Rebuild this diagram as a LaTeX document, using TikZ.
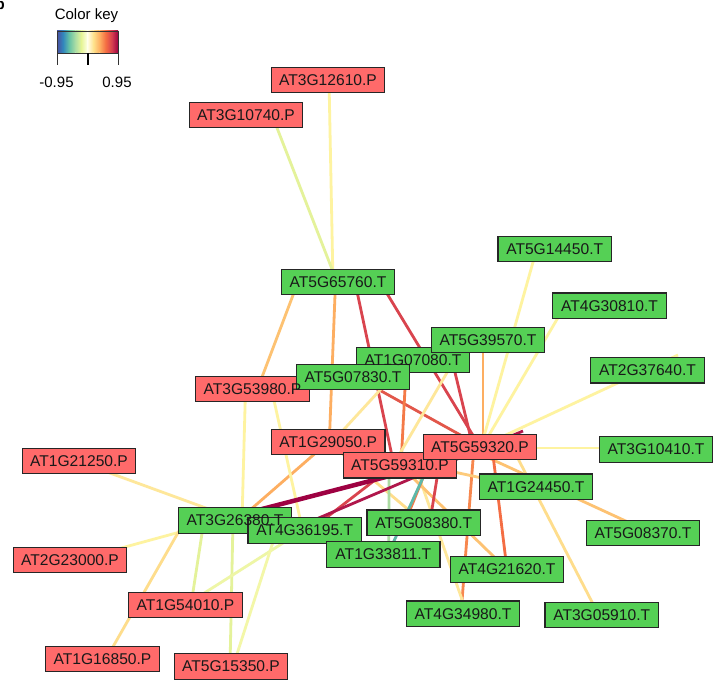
\documentclass[tikz,border=0pt]{standalone}
\usepackage{fontspec}
\setmainfont{Liberation Sans}
\usetikzlibrary{backgrounds}
\definecolor{pcol}{HTML}{FF6A6A}
\definecolor{tcol}{HTML}{55D055}
\definecolor{cPY}{HTML}{FEF3A0}
\definecolor{cLY}{HTML}{FEE79A}
\definecolor{cYG}{HTML}{E4F29A}
\definecolor{cYGb}{HTML}{EEF6A6}
\definecolor{cYGc}{HTML}{F3F7A8}
\definecolor{cPO}{HTML}{FEDD8C}
\definecolor{cLO}{HTML}{FDC272}
\definecolor{cLOb}{HTML}{FDCB7C}
\definecolor{cO}{HTML}{FDAE61}
\definecolor{cOR}{HTML}{F47A48}
\definecolor{cORb}{HTML}{F46D43}
\definecolor{cORc}{HTML}{F7874E}
\definecolor{cR}{HTML}{D9444E}
\definecolor{cRb}{HTML}{E2574A}
\definecolor{cC}{HTML}{B0174B}
\definecolor{cDC}{HTML}{9E0142}
\definecolor{cTeal}{HTML}{5DB8A8}
\definecolor{cLG}{HTML}{ABDBA2}
\definecolor{k1}{HTML}{4A4EA0}
\definecolor{k2}{HTML}{3288BD}
\definecolor{k3}{HTML}{66C2A5}
\definecolor{k4}{HTML}{ABDDA4}
\definecolor{k5}{HTML}{E6F598}
\definecolor{k6}{HTML}{FFFFE6}
\definecolor{k7}{HTML}{FEE08B}
\definecolor{k8}{HTML}{FDAE61}
\definecolor{k9}{HTML}{F46D43}
\definecolor{k10}{HTML}{D53E4F}
\definecolor{k11}{HTML}{9E0142}
\begin{document}
\begin{tikzpicture}[x=1pt,y=-1pt,
  box/.style={draw=black!85, line width=1.2pt, minimum width=113.5pt, minimum height=25.5pt, inner sep=0pt},
  pbox/.style={box, fill=pcol},
  tbox/.style={box, fill=tcol},
  lab/.style={font=\fontsize{15.6}{18}\selectfont, inner sep=0pt, text=black!90},
  edge/.style={line width=2.8pt},
  keytxt/.style={font=\fontsize{15}{18}\selectfont, inner sep=0pt},
]
\useasboundingbox (0,0) rectangle (723,684);
% fragment of panel letter
\node[anchor=east, font=\fontsize{15}{18}\selectfont\bfseries, inner sep=0pt] (panel) at (5,4) {b};
% color key
\node[keytxt] (keytitle) at (86.5,16) {Color key};
\coordinate (kA) at (57,31);
\coordinate (kB) at (118,53);
\shade[left color=k1, right color=k2] (57,31) rectangle (63.1,53);
\shade[left color=k2, right color=k3] (63.1,31) rectangle (69.2,53);
\shade[left color=k3, right color=k4] (69.2,31) rectangle (75.3,53);
\shade[left color=k4, right color=k5] (75.3,31) rectangle (81.4,53);
\shade[left color=k5, right color=k6] (81.4,31) rectangle (87.5,53);
\shade[left color=k6, right color=k7] (87.5,31) rectangle (93.6,53);
\shade[left color=k7, right color=k8] (93.6,31) rectangle (99.7,53);
\shade[left color=k8, right color=k9] (99.7,31) rectangle (105.8,53);
\shade[left color=k9, right color=k10] (105.8,31) rectangle (111.9,53);
\shade[left color=k10, right color=k11] (111.9,31) rectangle (118,53);
\draw[black!80, line width=0.8pt] (kA) rectangle (kB);
\draw[black!80, line width=0.8pt] (57,53) -- (57,65);
\draw[black!80, line width=0.8pt] (118,53) -- (118,65);
\draw[black, line width=1.8pt] (88,53) -- (88,65);
\node[keytxt] (kmin) at (56.5,82) {-0.95};
\node[keytxt] (kmax) at (117,82) {0.95};
% boxes
\node[pbox] (n3G12610) at (328,80) {};
\node[pbox] (n3G10740) at (246,115) {};
\node[tbox] (n5G65760) at (338,282) {};
\node[tbox] (n5G14450) at (554.7,249) {};
\node[tbox] (n4G30810) at (609.5,305.7) {};
\node[tbox] (n2G37640) at (647.5,370.3) {};
\node[tbox] (n1G07080) at (413,360) {};
\node[tbox] (n5G39570) at (488,340) {};
\node[pbox] (n3G53980) at (252.5,389) {};
\node[tbox] (n5G07830) at (353,377) {};
\node[pbox] (n1G29050) at (328.3,442) {};
\node[pbox] (n5G59310) at (400,465.3) {};
\node[pbox] (n5G59320) at (480,447) {};
\node[tbox] (n3G10410) at (656,449.5) {};
\node[pbox] (n1G21250) at (79,461) {};
\node[tbox] (n1G24450) at (536,486.7) {};
\node[tbox] (n3G26380) at (235,520.5) {};
\node[tbox] (n4G36195) at (304.7,530.5) {};
\node[tbox] (n5G08380) at (423.8,522.8) {};
\node[tbox] (n5G08370) at (643,533) {};
\node[tbox] (n1G33811) at (383.3,554.5) {};
\node[pbox] (n2G23000) at (70,560) {};
\node[tbox] (n4G21620) at (507,569.5) {};
\node[pbox] (n1G54010) at (185.5,605) {};
\node[tbox] (n4G34980) at (463,613.7) {};
\node[tbox] (n3G05910) at (601.7,615) {};
\node[pbox] (n1G16850) at (102.5,659) {};
\node[pbox] (n5G15350) at (231,666.5) {};
% labels
\node[lab] (t3G12610) at (n3G12610.center) {AT3G12610.P};
\node[lab] (t3G10740) at (n3G10740.center) {AT3G10740.P};
\node[lab] (t5G65760) at (n5G65760.center) {AT5G65760.T};
\node[lab] (t5G14450) at (n5G14450.center) {AT5G14450.T};
\node[lab] (t4G30810) at (n4G30810.center) {AT4G30810.T};
\node[lab] (t2G37640) at (n2G37640.center) {AT2G37640.T};
\node[lab] (t1G07080) at (n1G07080.center) {AT1G07080.T};
\node[lab] (t5G39570) at (n5G39570.center) {AT5G39570.T};
\node[lab] (t3G53980) at (n3G53980.center) {AT3G53980.P};
\node[lab] (t5G07830) at (n5G07830.center) {AT5G07830.T};
\node[lab] (t1G29050) at (n1G29050.center) {AT1G29050.P};
\node[lab] (t5G59310) at (n5G59310.center) {AT5G59310.P};
\node[lab] (t5G59320) at (n5G59320.center) {AT5G59320.P};
\node[lab] (t3G10410) at (n3G10410.center) {AT3G10410.T};
\node[lab] (t1G21250) at (n1G21250.center) {AT1G21250.P};
\node[lab] (t1G24450) at (n1G24450.center) {AT1G24450.T};
\node[lab] (t3G26380) at (n3G26380.center) {AT3G26380.T};
\node[lab] (t4G36195) at (n4G36195.center) {AT4G36195.T};
\node[lab] (t5G08380) at (n5G08380.center) {AT5G08380.T};
\node[lab] (t5G08370) at (n5G08370.center) {AT5G08370.T};
\node[lab] (t1G33811) at (n1G33811.center) {AT1G33811.T};
\node[lab] (t2G23000) at (n2G23000.center) {AT2G23000.P};
\node[lab] (t4G21620) at (n4G21620.center) {AT4G21620.T};
\node[lab] (t1G54010) at (n1G54010.center) {AT1G54010.P};
\node[lab] (t4G34980) at (n4G34980.center) {AT4G34980.T};
\node[lab] (t3G05910) at (n3G05910.center) {AT3G05910.T};
\node[lab] (t1G16850) at (n1G16850.center) {AT1G16850.P};
\node[lab] (t5G15350) at (n5G15350.center) {AT5G15350.P};
% edges
\begin{scope}[on background layer]
\fill[white] (0,0) rectangle (723,684);
\draw[edge,cPY] ([shift={(1,0)}]n3G12610.center) -- ([shift={(-5,0)}]n5G65760.center);
\draw[edge,cYG] ([shift={(26,0)}]n3G10740.center) -- ([shift={(-1,0)}]n5G65760.center);
\draw[edge,cLO] ([shift={(-40,0)}]n5G65760.center) -- ([shift={(5,0)}]n3G53980.center);
\draw[edge,cO] ([shift={(-2.5,0)}]n5G65760.center) -- ([shift={(1,0)}]n1G29050.center);
\draw[edge,cR] ([shift={(17,0)}]n5G65760.center) -- ([shift={(-6,0)}]n5G59310.center);
\draw[edge,cR] ([shift={(42,0)}]n5G65760.center) -- (n5G59320.center);
\draw[edge,cR] ([shift={(39,0)}]n1G07080.center) -- ([shift={(-7,0)}]n5G59320.center);
\draw[edge,cRb] ([shift={(3,0)}]n5G07830.center) -- ([shift={(2,0)}]n5G59320.center);
\draw[edge,cOR] ([shift={(-6.5,0)}]n1G07080.center) -- ([shift={(1,0)}]n5G59310.center);
\draw[edge,cLY] ([shift={(-22,0)}]n5G39570.center) -- ([shift={(-7,0)}]n5G59310.center);
\draw[edge,cLY] ([shift={(39,0)}]n5G07830.center) -- ([shift={(4,0)}]n1G29050.center);
\draw[edge,cO] ([shift={(-5,0)}]n5G39570.center) -- ([shift={(3,0)}]n5G59320.center);
\draw[edge,cPY] ([shift={(-18,0)}]n5G14450.center) -- ([shift={(1,0)}]n5G59320.center);
\draw[edge,cPY] ([shift={(-44.5,0)}]n4G30810.center) -- ([shift={(2,0)}]n5G59320.center);
\draw[edge,cPY] ([shift={(30.5,-15.3)}]n2G37640.center) -- (n5G59320.center);
\draw[edge,cPY] ([shift={(0,1)}]n5G59320.center) -- ([shift={(0,-1.5)}]n3G10410.center);
\draw[edge,cLO] ([shift={(-15,0)}]n5G59320.center) -- ([shift={(0,-4)}]n5G08370.center);
\draw[edge,cPO] ([shift={(32,0)}]n5G59320.center) -- ([shift={(-3,0)}]n3G05910.center);
\draw[edge,cORb] ([shift={(12,0)}]n5G59320.center) -- (n4G21620.center);
\draw[edge,cORc] ([shift={(-6,0)}]n5G59320.center) -- ([shift={(-2,0)}]n4G34980.center);
\draw[edge,cLY] ([shift={(15,0)}]n5G59310.center) -- ([shift={(4,0)}]n4G34980.center);
\draw[edge,cLO] (n5G59310.center) -- (n4G21620.center);
\draw[edge,cPO] (n1G29050.center) -- (n5G08380.center);
\draw[edge,cLOb] ([shift={(0,-5)}]n5G59310.center) -- ([shift={(0,3)}]n1G24450.center);
\draw[edge,cOR] ([shift={(28,0)}]n5G59310.center) -- ([shift={(-19,0)}]n5G08380.center);
\draw[edge,cR] ([shift={(-38,0)}]n5G59320.center) -- ([shift={(6,0)}]n5G08380.center);
\draw[edge,cLG] ([shift={(-11,0)}]n5G59310.center) -- ([shift={(5.5,0)}]n1G33811.center);
\draw[edge,cTeal] ([shift={(-43,0)}]n5G59320.center) -- ([shift={(4.5,0)}]n1G33811.center);
\draw[edge,cR] ([shift={(-6,0)}]n5G59310.center) -- ([shift={(5,0)}]n4G36195.center);
\draw[edge,cC] ([shift={(0,-6.5)}]n4G36195.center) -- ([shift={(43,-16)}]n5G59320.center);
\draw[edge,cO] ([shift={(3,0)}]n3G26380.center) -- (n1G29050.center);
\draw[edge,cPY] ([shift={(-7,0)}]n3G53980.center) -- ([shift={(7,0)}]n3G26380.center);
\draw[edge,cPY] ([shift={(19,0)}]n3G53980.center) -- ([shift={(-2,0)}]n4G36195.center);
\draw[edge,cLY] ([shift={(5,0)}]n3G26380.center) -- ([shift={(-2,0)}]n1G21250.center);
\draw[edge,cPY] ([shift={(0,-3.5)}]n3G26380.center) -- ([shift={(0,2)}]n2G23000.center);
\draw[edge,cPO] ([shift={(-50,0)}]n3G26380.center) -- ([shift={(3.5,0)}]n1G16850.center);
\draw[edge,cYG] ([shift={(-31,0)}]n3G26380.center) -- ([shift={(5.5,0)}]n1G54010.center);
\draw[edge,cYG] ([shift={(-2,0)}]n3G26380.center) -- ([shift={(-1,0)}]n5G15350.center);
\draw[edge,cYGb] ([shift={(-2,0)}]n4G36195.center) -- (n1G54010.center);
\draw[edge,cYGc] ([shift={(-28,0)}]n4G36195.center) -- ([shift={(2,0)}]n5G15350.center);
\draw[line width=4.5pt,cDC] ([shift={(0,-4.5)}]n3G26380.center) -- ([shift={(0,8)}]n5G59310.center);
\end{scope}
\end{tikzpicture}
\end{document}
